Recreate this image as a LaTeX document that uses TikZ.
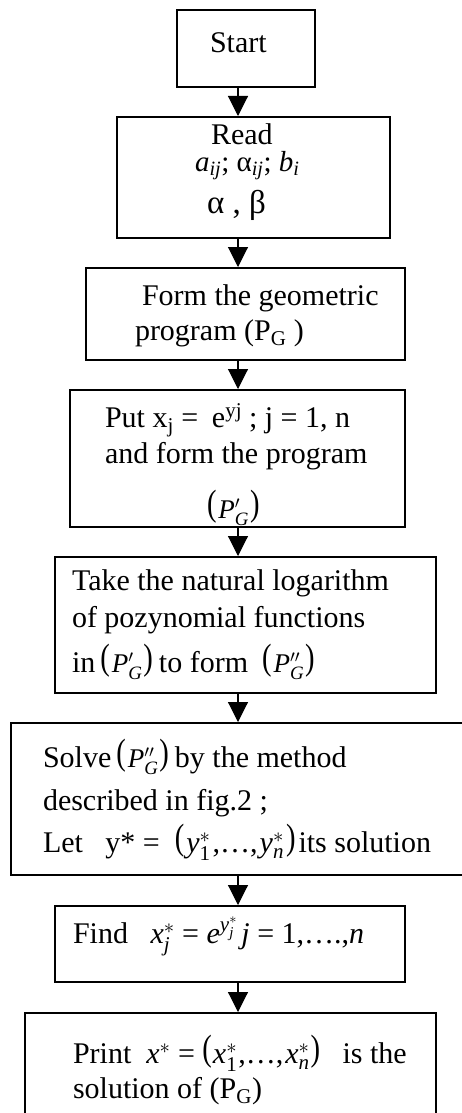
\documentclass[tikz,border=0pt]{standalone}
\usepackage{amsmath}
\usepackage{graphicx}
\usepackage{fontspec}
\setmainfont{Liberation Serif}
\usetikzlibrary{arrows.meta}
\newcommand\lpar{\raisebox{3pt}{\scalebox{0.95}[1.22]{(}}}
\newcommand\rpar{\raisebox{3pt}{\scalebox{0.95}[1.22]{)}}}
\newcommand\PGx[1]{\lpar\hspace{2pt}{\fontsize{27}{27}\selectfont$\mathit{P}#1_{\mathit{G}}$}\hspace{1pt}\rpar}
\begin{document}
\begin{tikzpicture}[x=1pt,y=-1pt,
  box/.style={draw, line width=1.3pt, inner sep=0pt, outer sep=0pt},
  txt/.style={anchor=base west, inner sep=0pt, outer sep=0pt, font=\fontsize{30}{36}\selectfont},
  arr/.style={line width=1.1pt, -{Triangle[width=20pt,length=20pt]}, shorten >=1pt}]
\useasboundingbox (0,0) rectangle (462,1113);
\clip (0,0) rectangle (462,1113);
\coordinate (ax) at (238,0);
% boxes
\node[box, minimum width=138pt, minimum height=77pt]  (start) at (246,48.5) {};
\node[box, minimum width=273pt, minimum height=121pt] (read)  at (253.5,177.5) {};
\node[box, minimum width=319pt, minimum height=92pt]  (form)  at (245.5,314) {};
\node[box, minimum width=335pt, minimum height=137pt] (put)   at (237.5,458.5) {};
\node[box, minimum width=381pt, minimum height=136pt] (take)  at (245.5,625) {};
\node[box, minimum width=464pt, minimum height=152pt] (solve) at (243,799) {};
\node[box, minimum width=350pt, minimum height=76pt]  (find)  at (230,944) {};
\node[box, minimum width=411pt, minimum height=117pt] (print) at (230.5,1071.5) {};
% texts
\node[txt] (t1) at (210,53) {Start};
\node[txt] (t2a) at (211,144) {Read};
\node[txt, font=\fontsize{29}{34}\selectfont] (t2b) at (195,171) {\textit{a}\textsubscript{\textit{ij}}; α\textsubscript{\textit{ij}}; \textit{b}\textsubscript{\textit{i}}};
\node[txt, font=\fontsize{33}{36}\selectfont] (t2c) at (207,213) {α , β};
\node[txt] (t3a) at (142,305) {Form the geometric};
\node[txt] (t3b) at (135,340) {program (P\textsubscript{G} )};
\node[txt] (t4a) at (105,427) {\makebox[107pt][l]{Put x\textsubscript{j} =}\makebox[37pt][l]{e\textsuperscript{yj}}; j = 1, n};
\node[txt] (t4b) at (105,463) {and form the program};
\node[txt] (t4c) at (207,518) {\PGx{'}};
\node[txt] (t5a) at (72,590) {Take the natural logarithm};
\node[txt] (t5b) at (72,627) {of pozynomial functions};
\node[txt] (t5c) at (72,672) {in\hspace{5pt}\PGx{'}\hspace{6pt}to form\hspace{14pt}\PGx{''}};
\node[txt] (t6a) at (43,767) {Solve\hspace{5pt}\PGx{''}\hspace{6pt}by the method};
\node[txt] (t6b) at (43,810) {described in fig.2 ;};
\node[txt] (t6c) at (43,852) {Let\ \ \ y* =\ \ \lpar\hspace{2pt}\textit{y}\ensuremath{^{*}_{\text{1}}}\hspace{2pt},…,\hspace{2pt}\textit{y}\ensuremath{^{*}_{\mathit{n}}}\hspace{2pt}\rpar\hspace{3pt}its solution};
\node[txt] (t7) at (73,943) {Find\ \ \ \textit{x}\ensuremath{^{*}_{\mathit{j}}} = \textit{e}\ensuremath{^{\mathit{y}^{*}_{\mathit{j}}}}\hspace{4pt}\textit{j} = 1,….,\textit{n}};
\node[txt] (t8a) at (73,1063) {Print\ \ \textit{x}\ensuremath{^{*}} = \lpar\hspace{1pt}\textit{x}\ensuremath{^{*}_{\text{1}}}\hspace{1pt},…,\hspace{2pt}\textit{x}\ensuremath{^{*}_{\mathit{n}}}\hspace{1pt}\rpar\ \ \ is the};
\node[txt] (t8b) at (73,1098) {solution of (P\textsubscript{G})};
% arrows
\draw[arr] (start.south -| ax) -- (read.north -| ax);
\draw[arr] (read.south -| ax) -- (form.north -| ax);
\draw[arr] (form.south -| ax) -- (put.north -| ax);
\draw[arr] (put.south -| ax) -- (take.north -| ax);
\draw[arr] (take.south -| ax) -- (solve.north -| ax);
\draw[arr] (solve.south -| ax) -- (find.north -| ax);
\draw[arr] (find.south -| ax) -- (print.north -| ax);
\end{tikzpicture}
\end{document}
